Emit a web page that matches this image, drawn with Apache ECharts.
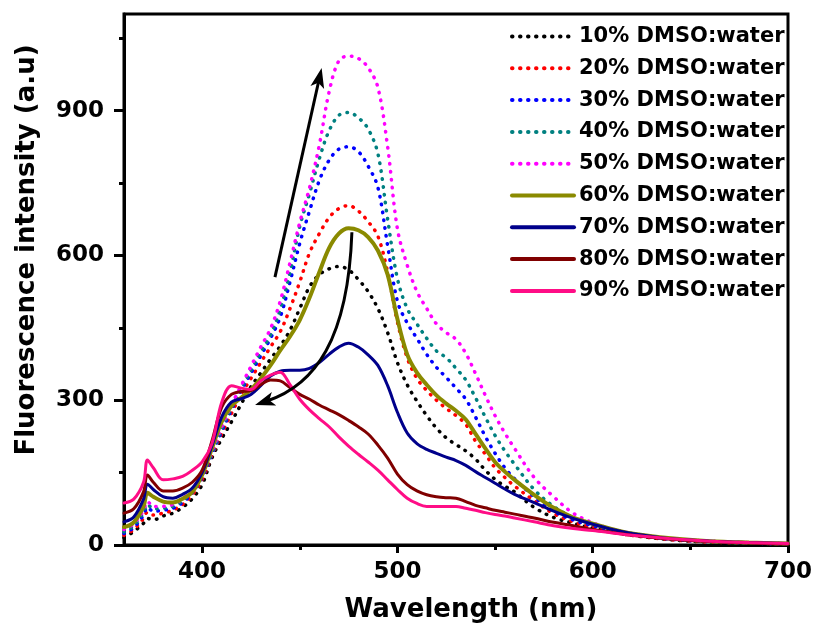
<!DOCTYPE html>
<html>
<head>
<meta charset="utf-8">
<script src="https://cdn.jsdelivr.net/npm/echarts@6/dist/echarts.min.js"></script>
<style>
  html, body { margin: 0; padding: 0; background: #fff; }
  #chart { width: 815px; height: 631px; }
</style>
</head>
<body>
<div id="chart"></div>
<script>
// Wavelength grid (nm)
const wavelength = [360,365,370,372,375,380,385,390,395,400,405,410,415,420,425,430,435,440,445,450,455,460,465,470,475,480,485,490,495,500,505,510,515,520,525,530,535,540,545,550,555,560,570,580,590,600,610,620,640,660,680,700];

const seriesNames = ['10% DMSO:water','20% DMSO:water','30% DMSO:water','40% DMSO:water','50% DMSO:water','60% DMSO:water','70% DMSO:water','80% DMSO:water','90% DMSO:water'];

const dmso10 = [15,28,45,55,52,60,66,78,96,125,180,220,255,292,328,356,385,412,445,490,535,560,572,577,570,550,525,490,440,378,332,298,268,242,222,208,195,178,155,136,122,110,78,57,45,35,27,20,11,6,4,2];
const dmso20 = [20,32,55,68,62,66,72,84,104,135,185,230,272,312,345,378,410,442,490,545,605,645,678,697,703,692,670,640,565,462,388,345,320,300,283,268,250,215,188,160,140,122,92,65,48,36,27,20,11,6,4,2];
const dmso30 = [24,36,62,78,70,72,76,88,108,140,188,235,280,320,356,392,428,472,545,625,692,755,797,820,825,815,785,741,620,505,460,428,395,368,347,325,302,265,225,190,160,137,100,70,52,40,30,22,12,7,4,2];
const dmso40 = [27,40,68,84,75,76,80,92,112,145,190,240,285,325,362,400,435,488,565,660,728,800,858,890,896,885,862,811,675,552,490,458,428,402,388,366,342,305,265,227,195,167,115,80,57,44,32,24,13,7,4,2];
const dmso50 = [32,44,72,90,80,80,84,96,116,150,195,245,290,330,370,410,448,505,585,668,740,828,938,1003,1013,1008,989,948,825,655,580,525,490,458,440,426,397,355,310,268,232,200,140,100,66,46,33,24,13,8,5,3];
const dmso60 = [37,47,80,108,100,90,88,96,110,145,200,255,288,305,322,345,372,403,432,466,512,565,615,645,656,652,638,610,560,468,395,357,332,310,293,278,260,230,200,172,152,135,104,77,57,44,33,24,14,8,5,3];
const dmso70 = [48,58,95,126,115,100,97,105,118,150,205,265,296,303,312,330,350,360,362,362,366,378,395,410,418,410,394,372,330,275,232,210,198,190,182,175,165,152,140,128,116,105,88,70,55,43,32,24,13,8,5,3];
const dmso80 = [66,75,110,145,130,112,112,118,130,155,215,285,312,318,320,332,342,340,326,312,302,290,280,270,258,245,230,207,180,147,125,112,104,100,98,97,90,82,77,72,68,64,56,47,40,32,26,20,12,7,4,2];
const dmso90 = [87,95,130,176,160,135,137,142,155,172,210,295,330,325,322,340,352,358,332,302,280,262,245,224,205,188,172,155,135,115,97,86,80,80,80,80,76,72,67,63,60,56,48,40,34,30,25,20,13,8,5,3];

const allValues = [dmso10,dmso20,dmso30,dmso40,dmso50,dmso60,dmso70,dmso80,dmso90];

// Axis ticks / labels
const xMajor = [400,500,600,700];
const xMinor = [450,550,650];
const yMajor = [0,300,600,900];
const yMinor = [150,450,750,1050];

// Annotation arrows in data coordinates
const arrowUp = [[437.3,555],[461.2,988]];
const arrowDown = [[476.7,648],[474.7,425],[457.8,331],[427.1,290]];

const colors = ['#000000','#ff0000','#0000ff','#008080','#ff00ff','#8a8a00','#00008b','#800000','#ff0d86'];
const dotted = [true,true,true,true,true,false,false,false,false];
const widths = [3.5,3.5,3.5,3.5,3.5,4,3,3,3];

const FONT = 'DejaVu Sans';

const chart = echarts.init(document.getElementById('chart'), null, {renderer:'canvas'});

const series = allValues.map((vals, i) => ({
  name: seriesNames[i],
  type: 'line',
  data: wavelength.map((w, k) => [w, vals[k]]),
  showSymbol: false,
  symbol: 'none',
  smooth: 0.35,
  color: colors[i],
  lineStyle: {
    color: colors[i],
    width: widths[i],
    type: dotted[i] ? [0.5, 7.5] : 'solid',
    cap: 'round'
  },
  z: 2 + i
}));

const option = {
  animation: false,
  backgroundColor: '#fff',
  grid: { left: 124, right: 27, top: 14, bottom: 86, show: true, borderColor: '#000', borderWidth: 3 },
  legend: {
    orient: 'vertical', left: 505, top: 21,
    itemWidth: 62, itemHeight: 20, itemGap: 10.8,
    data: seriesNames,
    itemStyle: { opacity: 0 },
    lineStyle: { width: 4 },
    textStyle: { fontFamily: FONT, fontWeight: 'bold', fontSize: 21, color: '#000', lineHeight: 20 }
  },
  xAxis: [
    {
      type: 'value', min: 360, max: 700,
      axisLine: { show: true, onZero: false, lineStyle: { color: '#000', width: 3 } },
      axisTick: { show: true, customValues: xMajor, length: 8, lineStyle: { color: '#000', width: 3 } },
      axisLabel: { customValues: xMajor, margin: 16, fontFamily: FONT, fontWeight: 'bold', fontSize: 23, color: '#000' },
      splitLine: { show: false }
    },
    {
      type: 'value', min: 360, max: 700, position: 'bottom',
      axisLine: { show: false },
      axisTick: { show: true, customValues: xMinor, length: 5, lineStyle: { color: '#000', width: 3 } },
      axisLabel: { show: false },
      splitLine: { show: false }
    }
  ],
  yAxis: [
    {
      type: 'value', min: 0, max: 1100,
      axisLine: { show: true, onZero: false, lineStyle: { color: '#000', width: 3 } },
      axisTick: { show: true, customValues: yMajor, length: 10, lineStyle: { color: '#000', width: 3 } },
      axisLabel: { customValues: yMajor, margin: 20, fontFamily: FONT, fontWeight: 'bold', fontSize: 23, color: '#000' },
      splitLine: { show: false }
    },
    {
      type: 'value', min: 0, max: 1100, position: 'left',
      axisLine: { show: false },
      axisTick: { show: true, customValues: yMinor, length: 5, lineStyle: { color: '#000', width: 3 } },
      axisLabel: { show: false },
      splitLine: { show: false }
    }
  ],
  series: series
};

chart.setOption(option);

function px(p) { return chart.convertToPixel({ gridIndex: 0 }, p); }

function arrowHead(tip, from, len, halfW) {
  const dx = tip[0] - from[0], dy = tip[1] - from[1];
  const d = Math.sqrt(dx*dx + dy*dy);
  const ux = dx / d, uy = dy / d;
  const bx = tip[0] - ux * len, by = tip[1] - uy * len;
  return [[tip[0], tip[1]], [bx - uy * halfW, by + ux * halfW], [bx + ux*len*0.25, by + uy*len*0.25], [bx + uy * halfW, by - ux * halfW]];
}
function back(tip, from, l) {
  const dx = tip[0]-from[0], dy = tip[1]-from[1];
  const d = Math.sqrt(dx*dx+dy*dy);
  return [tip[0]-dx/d*l, tip[1]-dy/d*l];
}

const a1 = arrowUp.map(px);
const a2 = arrowDown.map(px);
const head1 = arrowHead(a1[1], a1[0], 20, 7);
const head2 = arrowHead(a2[3], a2[2], 20, 7);
const a1End = back(a1[1], a1[0], 12);
const a2End = back(a2[3], a2[2], 12);

chart.setOption({
  graphic: [
    { type: 'line', z: 100, shape: { x1: a1[0][0], y1: a1[0][1], x2: a1End[0], y2: a1End[1] }, style: { stroke: '#000', lineWidth: 3 } },
    { type: 'polygon', z: 100, shape: { points: head1 }, style: { fill: '#000' } },
    { type: 'bezierCurve', z: 100, shape: { x1: a2[0][0], y1: a2[0][1], cpx1: a2[1][0], cpy1: a2[1][1], cpx2: a2[2][0], cpy2: a2[2][1], x2: a2End[0], y2: a2End[1] }, style: { stroke: '#000', lineWidth: 3, fill: null } },
    { type: 'polygon', z: 100, shape: { points: head2 }, style: { fill: '#000' } },
    { type: 'text', z: 100, x: 27, y: 250, rotation: Math.PI / 2,
      style: { text: 'Fluorescence intensity (a.u)', font: 'bold 26px "DejaVu Sans"', fill: '#000', align: 'center', verticalAlign: 'middle' } },
    { type: 'text', z: 100, x: 471, y: 610,
      style: { text: 'Wavelength (nm)', font: 'bold 26px "DejaVu Sans"', fill: '#000', align: 'center', verticalAlign: 'middle' } }
  ]
});
</script>
</body>
</html>
